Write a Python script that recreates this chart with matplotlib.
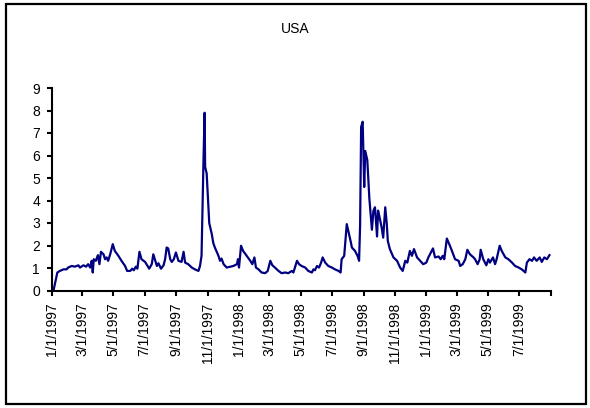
import numpy as np
import pandas as pd
import matplotlib
matplotlib.use("Agg")
import matplotlib.pyplot as plt
from matplotlib.patches import Rectangle

plt.rcParams['font.family'] = ['Liberation Sans', 'DejaVu Sans']

# data: days after 1/1/1997 and value
start = pd.Timestamp("1997-01-01")
day_offsets = [
    4, 11, 16, 23, 29, 32, 39, 45, 52, 55, 62, 67, 71, 75, 78, 80, 82, 86, 90, 93,
    96, 101, 104, 107, 110, 114, 119, 123, 130, 136, 143, 147, 153, 157, 160, 164, 167, 171, 175, 182,
    186, 190, 195, 198, 201, 205, 208, 213, 218, 221, 224, 227, 231, 234, 238, 242, 247, 253, 257, 260,
    266, 273, 279, 286, 289, 292, 296, 298, 299, 302, 304, 307, 312, 315, 318, 325, 328, 331, 335, 341,
    348, 354, 361, 363, 365, 369, 373, 380, 387, 391, 395, 398, 403, 409, 416, 421, 426, 430, 435, 442,
    448, 455, 461, 468, 471, 474, 478, 482, 487, 494, 500, 507, 510, 513, 517, 521, 525, 528, 533, 539,
    546, 552, 559, 563, 565, 570, 575, 578, 583, 585, 591, 596, 599, 601, 603, 606, 609, 611, 615, 619,
    624, 627, 630, 634, 636, 639, 643, 646, 650, 653, 655, 659, 666, 673, 679, 684, 689, 693, 698, 702,
    706, 712, 718, 724, 730, 734, 743, 747, 754, 758, 762, 765, 770, 776, 780, 786, 793, 796, 801, 806,
    810, 815, 822, 825, 830, 834, 836, 841, 847, 851, 854, 860, 864, 867, 873, 877, 884, 890, 897, 903,
    910, 916, 923, 926, 931, 936, 940, 945, 951, 955, 960, 965, 970,
]
usa = [
    0.05, 0.8, 0.87, 0.94, 0.94, 1.02, 1.09, 1.06, 1.12, 1.02, 1.12, 1.06, 1.17, 1.02, 1.32, 0.8, 1.39, 1.32, 1.57, 1.17,
    1.72, 1.61, 1.39, 1.47, 1.32, 1.61, 2.06, 1.76, 1.54, 1.32, 1.09, 0.87, 0.87, 0.97, 0.9, 1.06, 0.97, 1.72, 1.39, 1.27,
    1.12, 0.97, 1.17, 1.61, 1.39, 1.09, 1.21, 0.97, 1.12, 1.39, 1.91, 1.87, 1.39, 1.27, 1.39, 1.69, 1.32, 1.27, 1.72, 1.24,
    1.17, 1.02, 0.94, 0.87, 1.09, 1.54, 6.0, 7.9, 5.5, 5.2, 4.3, 3.0, 2.5, 2.1, 1.91, 1.54, 1.32, 1.42, 1.17, 1.02,
    1.06, 1.09, 1.17, 1.39, 1.02, 1.99, 1.76, 1.54, 1.32, 1.17, 1.47, 1.02, 0.94, 0.8, 0.77, 0.87, 1.32, 1.12, 1.02, 0.87,
    0.77, 0.8, 0.77, 0.87, 0.8, 1.02, 1.32, 1.17, 1.09, 1.02, 0.87, 0.8, 0.94, 0.9, 1.09, 1.02, 1.24, 1.47, 1.24, 1.09,
    1.02, 0.94, 0.87, 0.8, 1.39, 1.54, 2.95, 2.65, 2.14, 1.91, 1.76, 1.54, 1.32, 2.9, 7.27, 7.5, 4.6, 6.2, 5.8, 4.1,
    2.7, 3.55, 3.7, 2.4, 3.55, 3.25, 2.8, 2.35, 3.7, 2.95, 2.2, 1.84, 1.47, 1.32, 1.02, 0.87, 1.32, 1.24, 1.76, 1.54,
    1.84, 1.47, 1.32, 1.17, 1.24, 1.47, 1.87, 1.47, 1.51, 1.39, 1.54, 1.39, 2.31, 1.99, 1.76, 1.39, 1.32, 1.09, 1.17, 1.39,
    1.81, 1.61, 1.47, 1.39, 1.17, 1.39, 1.81, 1.39, 1.12, 1.39, 1.24, 1.47, 1.17, 1.39, 1.99, 1.76, 1.47, 1.39, 1.24, 1.09,
    1.02, 0.94, 0.8, 1.24, 1.39, 1.32, 1.47, 1.32, 1.47, 1.27, 1.47, 1.39, 1.57,
]
assert len(day_offsets) == len(usa)
dates = start + pd.to_timedelta(day_offsets, unit="D")
tick_dates = pd.date_range("1997-01-01", "1999-09-01", freq="2MS")
tick_labels = [f"{d.month}/{d.day}/{d.year}" for d in tick_dates[:-1]] + [""]

fig = plt.figure(figsize=(5.9, 4.08), dpi=100)
# outer chart border
fig.patches.append(Rectangle((6/590, 4/408), 580/590, 400/408, transform=fig.transFigure,
                             fill=False, edgecolor="black", linewidth=1.6))
ax = fig.add_axes([51.7/590, 1 - 290.5/408, (551 - 51.7)/590, (290.5 - 88)/408])

ax.plot(dates, usa, color="#000080", linewidth=1.6)

ax.set_ylim(0, 9)
ax.set_yticks(range(0, 10))
ax.set_xlim(tick_dates[0], tick_dates[-1])
ax.set_xticks(tick_dates)
ax.set_xticklabels(tick_labels, rotation=90)
for s in ["top", "right"]:
    ax.spines[s].set_visible(False)
for s in ["left", "bottom"]:
    ax.spines[s].set_linewidth(1.5)
ax.tick_params(axis="both", direction="out", length=3.5, width=1.5, labelsize=10, pad=5)
fig.text(295.5/590, 1 - 29/408, "USA", ha="center", va="center", fontsize=10)

fig.savefig("out.png", dpi=100)
